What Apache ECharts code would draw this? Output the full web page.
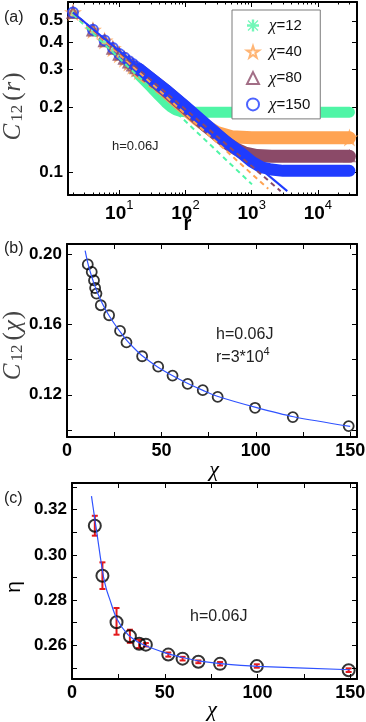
<!DOCTYPE html>
<html>
<head>
<meta charset="utf-8">
<title>C12 correlations, h=0.06J</title>
<script src="https://cdn.jsdelivr.net/npm/echarts@6/dist/echarts.min.js"></script>
<style>
  html, body { margin: 0; padding: 0; background: #fff; }
  #chart { width: 366px; height: 722px; }
</style>
</head>
<body>
<div id="chart"></div>
<script>
// (a) C12(r): separate markers at small r ...
const rNear = [2, 4, 6, 8, 10, 12, 14, 16, 18, 20];
const cNear12 = [0.540, 0.445, 0.397, 0.365, 0.343, 0.325, 0.310, 0.298, 0.289, 0.281];
const cNear40 = [0.545, 0.452, 0.404, 0.372, 0.349, 0.333, 0.320, 0.309, 0.300, 0.292];
const cNear80 = [0.546, 0.454, 0.405, 0.374, 0.351, 0.336, 0.323, 0.313, 0.304, 0.297];
const cNear150 = [0.546, 0.455, 0.406, 0.375, 0.352, 0.338, 0.326, 0.316, 0.307, 0.300];

// ... and the dense part where the markers merge into a band
const rBand12 = [20, 30, 40, 50, 60, 70, 85, 110, 30000];
const cBand12 = [0.281, 0.248, 0.226, 0.211, 0.201, 0.195, 0.1915, 0.190, 0.190];
const rBand40 = [20, 50, 100, 150, 200, 300, 500, 1000, 30000];
const cBand40 = [0.292, 0.236, 0.196, 0.176, 0.165, 0.153, 0.1465, 0.145, 0.1447];
const rBand80 = [20, 50, 100, 200, 300, 450, 600, 800, 1200, 2000, 30000];
const cBand80 = [0.297, 0.239, 0.199, 0.165, 0.149, 0.135, 0.128, 0.123, 0.120, 0.119, 0.119];
const rBand150 = [20, 50, 100, 200, 400, 700, 1000, 1400, 2000, 3000, 30000];
const cBand150 = [0.300, 0.241, 0.202, 0.168, 0.140, 0.123, 0.1125, 0.106, 0.1035, 0.102, 0.102];

// power-law fits (end points on the log-log axes)
const fitR12 = [2, 1010], fitC12 = [0.535, 0.0884];
const fitR40 = [2, 1780], fitC40 = [0.545, 0.0844];
const fitR80 = [2, 2740], fitC80 = [0.546, 0.0823];
const fitR150 = [2, 3450], fitC150 = [0.546, 0.0823];

const decadeTicks = [10, 100, 1000, 10000];
const minorTicksA = [2, 3, 4, 5, 6, 7, 8, 9, 20, 30, 40, 50, 60, 70, 80, 90,
  200, 300, 400, 500, 600, 700, 800, 900, 2000, 3000, 4000, 5000, 6000, 7000, 8000, 9000, 20000, 30000];
const cTicksA = [0.1, 0.2, 0.3, 0.4, 0.5];

// (b) C12(chi) at r = 3*10^4
const chiB = [11.0, 13.1, 14.3, 14.9, 15.6, 17.9, 22.3, 28.1, 31.5, 39.8, 48.3, 55.9, 63.9, 71.9, 79.8, 99.6, 119.6, 149.2];
const cChi = [0.1941, 0.1898, 0.1850, 0.1807, 0.1775, 0.1709, 0.1652, 0.1563, 0.1498, 0.1419, 0.1360, 0.1309, 0.1262, 0.1226, 0.1188, 0.1126, 0.1073, 0.1022];
const fitChiB = [9.6, 11, 12, 13, 14, 15, 16, 17, 18, 20, 22, 25, 28, 32, 36, 40, 48, 56, 64, 72, 80, 100, 120, 150];
const fitCB = [0.2020, 0.1950, 0.1910, 0.1875, 0.1842, 0.1812, 0.1784, 0.1758, 0.1734, 0.1692, 0.1655, 0.1605, 0.1560, 0.1505, 0.1460, 0.1420, 0.1358, 0.1308, 0.1264, 0.1225, 0.1190, 0.1128, 0.1075, 0.1020];
const cTicksB = [0.10, 0.12, 0.14, 0.16, 0.18, 0.20];
const cLabelsB = [0.12, 0.16, 0.20];

// (c) eta(chi) with error bars
const chiC = [12.3, 16.4, 24.0, 31.2, 36.2, 39.8, 51.9, 59.6, 68.1, 79.8, 99.6, 149.1];
const etaC = [0.3129, 0.2908, 0.2702, 0.2640, 0.2607, 0.2603, 0.2559, 0.2541, 0.2527, 0.2518, 0.2508, 0.2490];
const etaLo = [0.3085, 0.2849, 0.2647, 0.2611, 0.2588, 0.2595, 0.2550, 0.2533, 0.2521, 0.2511, 0.2501, 0.2482];
const etaHi = [0.3173, 0.2967, 0.2765, 0.2669, 0.2625, 0.2610, 0.2568, 0.2549, 0.2533, 0.2526, 0.2516, 0.2498];
const fitChiC = [10.5, 12, 13, 14.5, 16, 17, 18.5, 20.5, 24, 30, 36, 40, 52, 60, 69, 80, 100, 150];
const fitEta = [0.3260, 0.3175, 0.3120, 0.3035, 0.2950, 0.2902, 0.2850, 0.2800, 0.2720, 0.2648, 0.2612, 0.2597, 0.2562, 0.2545, 0.2530, 0.2519, 0.2507, 0.2492];
const etaTicks = [0.25, 0.26, 0.27, 0.28, 0.29, 0.30, 0.31, 0.32, 0.33];
const etaLabels = [0.26, 0.28, 0.30, 0.32];

const chiTicks = [0, 25, 50, 75, 100, 125, 150];
const chiLabels = [0, 50, 100, 150];

const GREEN = '#4ff5a6', ORANGE = '#ffa352', MAUVE = '#8b4a68', BLUE = '#1f3cff';
const FIT_BLUE = '#2f52ff', ERR_RED = '#e3191c';
const FONT = '"Liberation Sans", Arial, Helvetica, sans-serif';
const SERIF = '"Liberation Serif", "DejaVu Serif", serif';

const asterisk = 'path://M4,0h2v10h-2z M0,4h10v2h-10z M1.2,0.5L9.5,8.8L8.8,9.5L0.5,1.2z M8.8,0.5L9.5,1.2L1.2,9.5L0.5,8.8z';
const star = 'path://M50,2L61,36L97,36L68,57L79,92L50,71L21,92L32,57L3,36L39,36Z';

const pairs = (xs, ys) => xs.map((x, i) => [x, ys[i]]);

const off = { show: false };
const frame = { show: true, onZero: false, lineStyle: { color: '#000', width: 2 } };
function ticksIn(vals, len) {
  return { show: true, inside: true, length: len, customValues: vals, lineStyle: { color: '#000', width: 1 } };
}
function labels(vals, fmt, size, margin) {
  return {
    show: true, customValues: vals, formatter: fmt, margin: margin,
    color: '#000', fontFamily: FONT, fontWeight: 'bold', fontSize: size
  };
}
function axis(grid, type, min, max, pos, line, tick, label) {
  return {
    gridIndex: grid, type: type, min: min, max: max, position: pos,
    axisLine: line, axisTick: tick, axisLabel: label,
    splitLine: off, minorTick: off, minorSplitLine: off
  };
}

const decadeLabel = {
  show: true, customValues: decadeTicks, margin: 4,
  formatter: v => '{b|10}{s|' + Math.round(Math.log10(v)) + '}',
  rich: {
    b: { fontFamily: FONT, fontWeight: 'bold', fontSize: 19, lineHeight: 24, verticalAlign: 'bottom', color: '#000' },
    s: { fontFamily: FONT, fontSize: 13, lineHeight: 13, verticalAlign: 'top', color: '#000' }
  }
};

const xAxes = [
  axis(0, 'log', 1.68, 39000, 'bottom', frame, ticksIn(decadeTicks, 5), decadeLabel),
  axis(0, 'log', 1.68, 39000, 'bottom', off, ticksIn(minorTicksA, 2.5), off),
  axis(0, 'log', 1.68, 39000, 'top', frame, ticksIn(decadeTicks, 5), off),
  axis(0, 'log', 1.68, 39000, 'top', off, ticksIn(minorTicksA, 2.5), off),
  axis(1, 'value', 0, 153.6, 'bottom', frame, ticksIn(chiTicks, 5), labels(chiLabels, v => String(v), 18, 5)),
  axis(1, 'value', 0, 153.6, 'top', frame, ticksIn(chiTicks, 5), off),
  axis(2, 'value', 0, 153.6, 'bottom', frame, ticksIn(chiTicks, 5), labels(chiLabels, v => String(v), 18, 5)),
  axis(2, 'value', 0, 153.6, 'top', frame, ticksIn(chiTicks, 5), off)
];
const yAxes = [
  axis(0, 'log', 0.079, 0.61, 'left', frame, ticksIn(cTicksA, 5), labels(cTicksA, v => String(v), 17, 5)),
  axis(0, 'log', 0.079, 0.61, 'right', frame, ticksIn(cTicksA, 5), off),
  axis(1, 'value', 0.096, 0.2057, 'left', frame, ticksIn(cTicksB, 5), labels(cLabelsB, v => v.toFixed(2), 17, 5)),
  axis(1, 'value', 0.096, 0.2057, 'right', frame, ticksIn(cTicksB, 5), off),
  axis(2, 'value', 0.2451, 0.3318, 'left', frame, ticksIn(etaTicks, 5), labels(etaLabels, v => v.toFixed(2), 17, 5)),
  axis(2, 'value', 0.2451, 0.3318, 'right', frame, ticksIn(etaTicks, 5), off)
];

function band(rs, cs, color, width) {
  return {
    type: 'line', xAxisIndex: 0, yAxisIndex: 0, data: pairs(rs, cs),
    symbol: 'none', silent: true,
    lineStyle: { color: color, width: width, cap: 'round', join: 'round' }
  };
}
function markers(name, rs, cs, symbol, size, style) {
  return {
    type: 'scatter', name: name, xAxisIndex: 0, yAxisIndex: 0, data: pairs(rs, cs),
    symbol: symbol, symbolSize: size, itemStyle: style, silent: true
  };
}
function fit(xi, yi, xs, ys, color, width, dash, smooth) {
  return {
    type: 'line', xAxisIndex: xi, yAxisIndex: yi, data: pairs(xs, ys),
    symbol: 'none', silent: true, smooth: smooth || false,
    lineStyle: { color: color, width: width, type: dash }
  };
}
const last = a => a[a.length - 1];

const series = [
  band(rBand12, cBand12, GREEN, 11),
  markers('χ=12', rNear, cNear12, asterisk, 9, { color: GREEN }),
  band(rBand40, cBand40, ORANGE, 13),
  markers('χ=40', rNear, cNear40, star, 12, { color: 'rgba(255,255,255,0)', borderColor: ORANGE, borderWidth: 2 }),
  markers('', [last(rBand40)], [last(cBand40)], star, 12, { color: '#fff', borderColor: ORANGE, borderWidth: 2 }),
  band(rBand80, cBand80, MAUVE, 13),
  markers('χ=80', rNear, cNear80, 'triangle', 11, { color: 'rgba(255,255,255,0)', borderColor: MAUVE, borderWidth: 2 }),
  markers('', [last(rBand80)], [last(cBand80)], 'triangle', 10, { color: '#fff', borderColor: MAUVE, borderWidth: 2 }),
  band(rBand150, cBand150, BLUE, 12),
  markers('χ=150', rNear, cNear150, 'circle', 10, { color: 'rgba(255,255,255,0)', borderColor: BLUE, borderWidth: 2 }),
  fit(0, 0, fitR12, fitC12, GREEN, 2, [5, 4]),
  fit(0, 0, fitR40, fitC40, ORANGE, 2, [5, 4]),
  fit(0, 0, fitR80, fitC80, MAUVE, 2, [5, 4]),
  fit(0, 0, fitR150, fitC150, BLUE, 2, 'solid'),

  fit(4, 2, fitChiB, fitCB, FIT_BLUE, 1.2, 'solid', 0.3),
  {
    type: 'scatter', xAxisIndex: 4, yAxisIndex: 2, data: pairs(chiB, cChi), silent: true,
    symbol: 'circle', symbolSize: 10,
    itemStyle: { color: 'rgba(255,255,255,0)', borderColor: '#000', borderWidth: 1.8 }
  },

  fit(6, 4, fitChiC, fitEta, FIT_BLUE, 1.2, 'solid', 0.3),
  {
    type: 'scatter', xAxisIndex: 6, yAxisIndex: 4, data: pairs(chiC, etaC), silent: true,
    symbol: 'circle', symbolSize: 12,
    itemStyle: { color: 'rgba(255,255,255,0)', borderColor: '#000', borderWidth: 2 }
  },
  {
    type: 'custom', xAxisIndex: 6, yAxisIndex: 4, silent: true, clip: false,
    data: chiC.map((c, i) => [c, etaLo[i], etaHi[i]]),
    encode: { x: 0, y: [1, 2] },
    renderItem: function (params, api) {
      const lo = api.coord([api.value(0), api.value(1)]);
      const hi = api.coord([api.value(0), api.value(2)]);
      const s = { stroke: ERR_RED, lineWidth: 2 };
      const w = 3;
      return {
        type: 'group',
        children: [
          { type: 'line', shape: { x1: lo[0], y1: lo[1], x2: hi[0], y2: hi[1] }, style: s },
          { type: 'line', shape: { x1: lo[0] - w, y1: lo[1], x2: lo[0] + w, y2: lo[1] }, style: s },
          { type: 'line', shape: { x1: hi[0] - w, y1: hi[1], x2: hi[0] + w, y2: hi[1] }, style: s }
        ]
      };
    }
  }
];

function txt(x, y, text, size, extra) {
  return {
    type: 'text', x: x, y: y, silent: true,
    style: Object.assign({ text: text, font: size + 'px ' + FONT, fill: '#222', align: 'left', verticalAlign: 'middle' }, extra || {})
  };
}
const labelRich = {
  c: { fontFamily: SERIF, fontStyle: 'italic', fontSize: 25, lineHeight: 28, verticalAlign: 'bottom', fill: '#444' },
  n: { fontFamily: SERIF, fontSize: 17, lineHeight: 17, verticalAlign: 'bottom', padding: [0, 3, 0, 2], fill: '#444' },
  p: { fontFamily: SERIF, fontSize: 25, lineHeight: 28, verticalAlign: 'bottom', padding: [0, 1], fill: '#444' }
};
const chiFont = 'italic 22px ' + SERIF;

const graphic = [
  txt(4, 18, '(a)', 16),
  txt(4, 249, '(b)', 16),
  txt(4, 499, '(c)', 16),
  txt(112, 146, 'h=0.06J', 13),
  txt(187.5, 224, 'r', 20, { font: 'bold 20px ' + FONT, fill: '#000', align: 'center' }),
  {
    type: 'text', x: 12, y: 106, rotation: Math.PI / 2, silent: true,
    style: { text: '{c|C}{n|12}{p|(}{c|r}{p|)}', rich: labelRich, align: 'center', verticalAlign: 'middle', fill: '#444' }
  },
  txt(216, 335, 'h=0.06J', 16),
  {
    type: 'text', x: 216, y: 356, silent: true,
    style: {
      text: '{t|r=3*10}{s|4}', align: 'left', verticalAlign: 'middle', fill: '#222',
      rich: {
        t: { fontFamily: FONT, fontSize: 16, lineHeight: 20, verticalAlign: 'bottom' },
        s: { fontFamily: FONT, fontSize: 11, lineHeight: 11, verticalAlign: 'top' }
      }
    }
  },
  txt(214, 470, 'χ', 22, { font: chiFont, align: 'center', fill: '#000' }),
  {
    type: 'text', x: 12, y: 345, rotation: Math.PI / 2, silent: true,
    style: { text: '{c|C}{n|12}{p|(}{c|χ}{p|)}', rich: labelRich, align: 'center', verticalAlign: 'middle', fill: '#444' }
  },
  txt(190, 617, 'h=0.06J', 16),
  {
    type: 'text', x: 14, y: 587, rotation: Math.PI / 2, silent: true,
    style: { text: 'η', font: '21px ' + FONT, fill: '#000', align: 'center', verticalAlign: 'middle' }
  },
  txt(212, 710, 'χ', 22, { font: chiFont, align: 'center', fill: '#000' })
];

const chart = echarts.init(document.getElementById('chart'));
chart.setOption({
  animation: false,
  backgroundColor: '#fff',
  grid: [
    { left: 68, top: 2, width: 289, height: 193, containLabel: false, outerBoundsMode: 'none' },
    { left: 67, top: 244, width: 290, height: 193, containLabel: false, outerBoundsMode: 'none' },
    { left: 72, top: 483, width: 285, height: 196, containLabel: false, outerBoundsMode: 'none' }
  ],
  legend: {
    data: ['χ=12', 'χ=40', 'χ=80', 'χ=150'],
    orient: 'vertical', left: 232, top: 10,
    padding: [7, 10, 6, 14], itemGap: 9.3, itemWidth: 12, itemHeight: 12,
    borderColor: '#7a7a7a', borderWidth: 1, backgroundColor: '#fff',
    formatter: name => '{g|χ}{t|' + name.slice(1) + '}',
    textStyle: {
      color: '#111', lineHeight: 12,
      rich: {
        g: { fontFamily: SERIF, fontStyle: 'italic', fontSize: 17, lineHeight: 12, padding: [0, 0, 0, 5] },
        t: { fontFamily: FONT, fontSize: 15, lineHeight: 12 }
      }
    },
    selectedMode: false
  },
  xAxis: xAxes,
  yAxis: yAxes,
  series: series,
  graphic: graphic
});
</script>
</body>
</html>
